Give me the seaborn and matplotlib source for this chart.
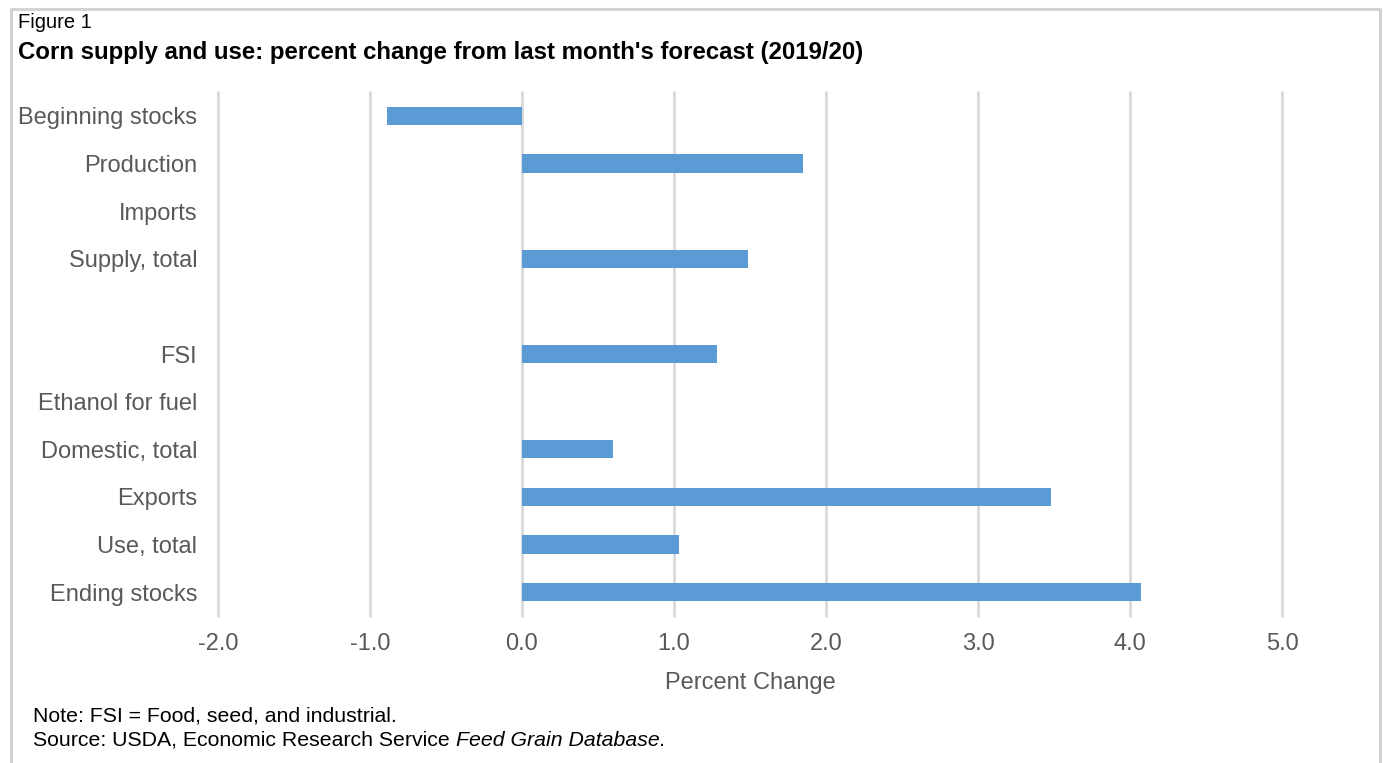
import matplotlib
matplotlib.use("Agg")
import matplotlib.pyplot as plt
from matplotlib.patches import Rectangle
import seaborn as sns
import pandas as pd

# Percent change from last month's forecast, 2019/20
categories = ["Beginning stocks", "Production", "Imports", "Supply, total", " ",
              "FSI", "Ethanol for fuel", "Domestic, total", "Exports", "Use, total",
              "Ending stocks"]
pct_change = [-0.89, 1.85, 0.0, 1.49, 0.0, 1.28, 0.0, 0.60, 3.48, 1.03, 4.07]
x_ticks = [-2.0, -1.0, 0.0, 1.0, 2.0, 3.0, 4.0, 5.0]

df = pd.DataFrame({"item": categories, "change": pct_change})

sns.set_theme(style="white")
plt.rcParams["font.family"] = ["Liberation Sans", "DejaVu Sans"]

W, H = 1384, 763
fig = plt.figure(figsize=(W / 100, H / 100), dpi=100)
ax = fig.add_axes([218 / W, 1 - 616 / H, (1282 - 218) / W, (616 - 92) / H])

sns.barplot(data=df, x="change", y="item", order=categories, orient="h",
            color="#5B9BD5", saturation=1, width=0.38, linewidth=0, ax=ax)

ax.set_xlim(-2, 5)
ax.set_ylim(len(categories) - 0.5, -0.5)
ax.set_xticks(x_ticks)
ax.set_xticklabels([f"{t:.1f}" for t in x_ticks], color="#595959", fontsize=17)
ax.tick_params(axis="y", labelsize=17, labelcolor="#595959", length=0, pad=15)
ax.tick_params(axis="x", length=0, pad=12.5)
ax.grid(axis="x", color="#d9d9d9", linewidth=2)
for gl in ax.get_xgridlines():
    gl.set_clip_on(False)
ax.set_axisbelow(True)
for s in ax.spines.values():
    s.set_visible(False)
ax.set_ylabel("")
ax.set_xlabel("Percent Change", fontsize=17, color="#595959", labelpad=12)

# outer frame
fig.patches.append(Rectangle((11 / W, -0.02), (1380 - 11) / W, 1.02 - 9 / H,
                             transform=fig.transFigure, fill=False,
                             edgecolor="#d0d0d0", linewidth=2))

fig.text(18 / W, 1 - 22.5 / H, "Figure 1", fontsize=14.5, color="black", va="center")
fig.text(18 / W, 1 - 52 / H,
         "Corn supply and use: percent change from last month's forecast (2019/20)",
         fontsize=17.3, fontweight="bold", color="black", va="center")
fig.text(33 / W, 1 - 716 / H, "Note: FSI = Food, seed, and industrial.",
         fontsize=15.3, color="black", va="center")
fig.text(33 / W, 1 - 740 / H, "Source: USDA, Economic Research Service ",
         fontsize=15.3, color="black", va="center")
src = fig.texts[-1]
fig.canvas.draw()
bb = src.get_window_extent()
fig.text(bb.x1 / W, 1 - 740 / H, "Feed Grain Database", fontsize=15.3,
         style="italic", color="black", va="center")
fig.canvas.draw()
bb2 = fig.texts[-1].get_window_extent()
fig.text(bb2.x1 / W, 1 - 740 / H, ".", fontsize=15.3, color="black", va="center")

fig.savefig("out.png", dpi=100)
